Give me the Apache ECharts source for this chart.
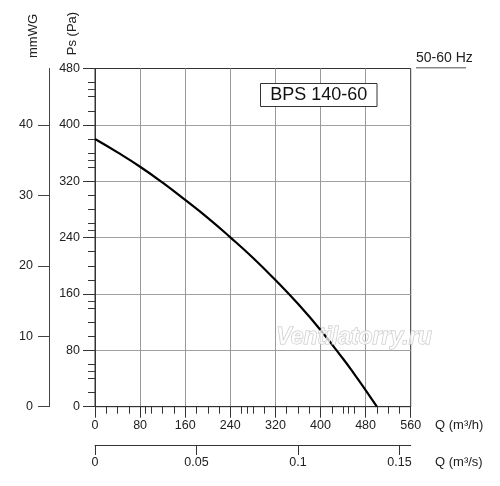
<!DOCTYPE html>
<html>
<head>
<meta charset="utf-8">
<script src="https://cdn.jsdelivr.net/npm/echarts@6/dist/echarts.min.js"></script>
<style>
  html, body { margin: 0; padding: 0; background: #fff; }
  #chart { width: 500px; height: 486px; }
</style>
</head>
<body>
<div id="chart"></div>
<script>
// fan curve BPS 140-60
const flowM3h = [0, 40, 80, 120, 160, 200, 240, 280, 320, 360, 400, 440, 460, 480, 500];
const pressurePa = [380, 361, 340.6, 318, 293.4, 268, 240.4, 211.4, 179.8, 146, 108.9, 68, 46.3, 23.7, 0];

const paTicks = [0, 80, 160, 240, 320, 400, 480];
const mmwgTicks = [0, 10, 20, 30, 40];
const mmwgMinor = [5, 15, 25, 35, 45];
const qsTicks = [0, 0.05, 0.1, 0.15];
const qsMinor = [0.025, 0.075, 0.125];

const font = 'Liberation Sans, Arial, sans-serif';
const dark = '#333';

const chart = echarts.init(document.getElementById('chart'), null, { renderer: 'canvas' });

const lbl = { fontFamily: font, fontSize: 12.5, color: '#222' };

const option = {
  animation: false,
  grid: {
    left: 95, right: 89.3, top: 68.5, bottom: 79.3,
    show: true, borderColor: dark, borderWidth: 1, backgroundColor: 'transparent'
  },
  xAxis: [
    {
      type: 'value', min: 0, max: 560, interval: 80, position: 'bottom',
      axisLine: { onZero: false, lineStyle: { color: dark, width: 1 } },
      axisTick: { length: 11, lineStyle: { color: dark } },
      minorTick: { show: true, splitNumber: 4, length: 7, lineStyle: { color: dark } },
      splitLine: { show: true, showMinLine: false, showMaxLine: false, lineStyle: { color: '#999' } },
      axisLabel: Object.assign({ margin: 12 }, lbl)
    },
    {
      type: 'value', min: 0, max: 560 / 3600, position: 'bottom', offset: 38.3,
      axisLine: { onZero: false, lineStyle: { color: dark } },
      axisTick: { customValues: qsTicks, length: 10, lineStyle: { color: dark } },
      splitLine: { show: false },
      axisLabel: Object.assign({ margin: 11, customValues: qsTicks }, lbl)
    },
    {
      type: 'value', min: 0, max: 560 / 3600, position: 'bottom', offset: 38.3,
      axisLine: { show: false },
      axisTick: { customValues: qsMinor, length: 7, lineStyle: { color: dark } },
      splitLine: { show: false },
      axisLabel: { show: false }
    }
  ],
  yAxis: [
    {
      type: 'value', min: 0, max: 480, interval: 80, position: 'left',
      axisLine: { show: true, onZero: false, lineStyle: { color: dark } },
      axisTick: { show: true, length: 12, lineStyle: { color: dark } },
      minorTick: { show: true, splitNumber: 4, length: 7, lineStyle: { color: dark } },
      splitLine: { show: true, showMinLine: false, showMaxLine: false, lineStyle: { color: '#a0a0a0' } },
      axisLabel: Object.assign({ margin: 15 }, lbl)
    },
    {
      type: 'value', min: 0, max: 48, position: 'left', offset: 46,
      axisLine: { show: true, onZero: false, lineStyle: { color: '#444' } },
      axisTick: { show: true, customValues: mmwgTicks, length: 11, lineStyle: { color: '#444' } },
      splitLine: { show: false },
      axisLabel: Object.assign({ margin: 16, customValues: mmwgTicks }, lbl)
    },
    {
      type: 'value', min: 0, max: 48, position: 'left', offset: 46,
      axisLine: { show: false },
      axisTick: { show: true, customValues: mmwgMinor, length: 7, lineStyle: { color: '#444' } },
      splitLine: { show: false },
      axisLabel: { show: false }
    }
  ],
  series: [{
    type: 'line',
    xAxisIndex: 0, yAxisIndex: 0,
    smooth: true,
    symbol: 'none',
    lineStyle: { color: '#000', width: 2.2 },
    data: flowM3h.map((q, i) => [q, pressurePa[i]]),
    z: 3
  }],
  graphic: [
    { type: 'text', x: 33, y: 36, rotation: Math.PI / 2,
      style: { text: 'mmWG', font: '13px ' + font, fill: '#222', align: 'center', verticalAlign: 'middle' } },
    { type: 'text', x: 72, y: 33.5, rotation: Math.PI / 2,
      style: { text: 'Ps (Pa)', font: '13px ' + font, fill: '#222', align: 'center', verticalAlign: 'middle' } },
    { type: 'text', x: 435, y: 425,
      style: { text: 'Q (m³/h)', font: '13px ' + font, fill: '#222', align: 'left', verticalAlign: 'middle' } },
    { type: 'text', x: 435, y: 462.5,
      style: { text: 'Q (m³/s)', font: '13px ' + font, fill: '#222', align: 'left', verticalAlign: 'middle' } },
    { type: 'text', x: 416, y: 58.5,
      style: { text: '50-60 Hz', font: '14px ' + font, fill: '#222', align: 'left', verticalAlign: 'middle' } },
    { type: 'line', shape: { x1: 416, y1: 67.7, x2: 466, y2: 67.7 },
      style: { stroke: '#888', lineWidth: 1.5 } },
    { type: 'rect', shape: { x: 260.5, y: 83.5, width: 116.5, height: 23 },
      style: { fill: '#fff', stroke: dark, lineWidth: 1 }, z: 10 },
    { type: 'text', x: 318.7, y: 95.5, z: 11,
      style: { text: 'BPS 140-60', font: '18px ' + font, fill: '#111', align: 'center', verticalAlign: 'middle' } },
    { type: 'text', x: 354, y: 338, z: 12,
      style: { text: 'Ventilatorry.ru', font: 'italic bold 23px ' + font,
        fill: 'rgba(255,255,255,0.7)', stroke: '#c4c4c4', lineWidth: 1, align: 'center', verticalAlign: 'middle' } }
  ]
};

chart.setOption(option);
</script>
</body>
</html>
